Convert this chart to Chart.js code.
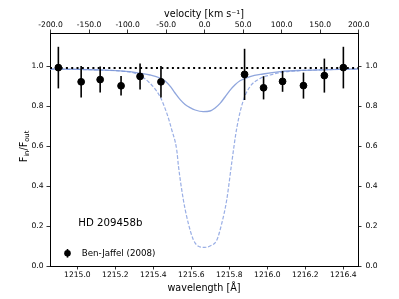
<!DOCTYPE html>
<html>
<head>
<meta charset="utf-8">
<script src="https://cdn.jsdelivr.net/npm/chart.js@4.4.0/dist/chart.umd.min.js"></script>
<style>
  body { margin: 0; background: #fff; }
  #wrap { width: 399px; height: 299px; }
</style>
</head>
<body>
<div id="wrap"><canvas id="lya" width="399" height="299"></canvas></div>
<script>
// Ben-Jaffel (2008) points
const obsWave = [1214.90, 1215.02, 1215.12, 1215.23, 1215.33, 1215.44, 1215.88, 1215.98, 1216.08, 1216.19, 1216.30, 1216.40];
const obsFlux = [0.992, 0.921, 0.932, 0.901, 0.948, 0.921, 0.958, 0.891, 0.923, 0.902, 0.952, 0.992];
const obsErr  = [0.104, 0.079, 0.065, 0.049, 0.065, 0.079, 0.128, 0.058, 0.052, 0.065, 0.085, 0.104];

// model, convolved (solid)
const convWave = [1214.856, 1215.014, 1215.119, 1215.225, 1215.277, 1215.33, 1215.383, 1215.435, 1215.462, 1215.488, 1215.514, 1215.541, 1215.567, 1215.593, 1215.62, 1215.662, 1215.698, 1215.725, 1215.751, 1215.777, 1215.804, 1215.83, 1215.856, 1215.909, 1215.977, 1216.067, 1216.172, 1216.33, 1216.477];
const convFlux = [0.985, 0.983, 0.980, 0.976, 0.972, 0.964, 0.955, 0.940, 0.925, 0.899, 0.865, 0.832, 0.808, 0.792, 0.780, 0.772, 0.775, 0.790, 0.813, 0.845, 0.879, 0.906, 0.926, 0.947, 0.960, 0.972, 0.978, 0.982, 0.985];

// model, unconvolved (dashed)
const rawWave = [1214.856, 1215.119, 1215.225, 1215.313, 1215.383, 1215.435, 1215.471, 1215.497, 1215.523, 1215.532, 1215.558, 1215.584, 1215.611, 1215.635, 1215.668, 1215.698, 1215.734, 1215.76, 1215.786, 1215.813, 1215.839, 1215.874, 1215.909, 1215.962, 1216.014, 1216.067, 1216.172, 1216.33, 1216.477];
const rawFlux = [0.985, 0.980, 0.975, 0.960, 0.913, 0.847, 0.763, 0.680, 0.580, 0.500, 0.330, 0.213, 0.130, 0.100, 0.093, 0.100, 0.130, 0.213, 0.330, 0.520, 0.690, 0.830, 0.897, 0.938, 0.955, 0.967, 0.977, 0.982, 0.985];

const contLevel = 0.99;

const waveTicks = [1215.0, 1215.2, 1215.4, 1215.6, 1215.8, 1216.0, 1216.2, 1216.4];
const velTicks = [-200, -150, -100, -50, 0, 50, 100, 150, 200];
const fluxTicks = [0.0, 0.2, 0.4, 0.6, 0.8, 1.0];

const waveMin = 1214.856, waveMax = 1216.477;
const lam0 = 1215.67, cLight = 299792.458;
const yMax = 1.165;

function pts(xs, ys) {
  return xs.map((x, i) => ({x: x, y: ys[i]}));
}

const ff = 'DejaVu Sans';

function axisStyle(extra) {
  return Object.assign({
    grid: {display: true, drawOnChartArea: false, drawTicks: true, tickLength: 3.5, tickWidth: 0.8, color: '#000'},
    border: {display: true, color: '#000', width: 1},
    ticks: {color: '#000', font: {family: ff, size: 7.6}}
  }, extra);
}

const errorBars = {
  id: 'errorBars',
  beforeDatasetDraw(chart, args) {
    if (args.index !== 0) return;
    const ctx = chart.ctx, xs = chart.scales.x, ys = chart.scales.y;
    ctx.save();
    ctx.strokeStyle = '#000';
    ctx.lineWidth = 1.6;
    obsWave.forEach((w, i) => {
      const px = xs.getPixelForValue(w);
      ctx.beginPath();
      ctx.moveTo(px, ys.getPixelForValue(obsFlux[i] - obsErr[i]));
      ctx.lineTo(px, ys.getPixelForValue(obsFlux[i] + obsErr[i]));
      ctx.stroke();
    });
    ctx.restore();
  }
};

const extras = {
  id: 'extras',
  afterDraw(chart) {
    const ctx = chart.ctx, a = chart.chartArea;
    ctx.save();
    ctx.fillStyle = '#000';
    ctx.textBaseline = 'middle';
    ctx.textAlign = 'left';
    ctx.font = '10.2px ' + ff;
    ctx.fillText('HD 209458b', a.left + 28.3, 223.3);

    // legend
    const lx = a.left + 17.5, ly = 253.3;
    ctx.strokeStyle = '#000';
    ctx.lineWidth = 1.6;
    ctx.beginPath(); ctx.moveTo(lx, ly - 4.3); ctx.lineTo(lx, ly + 4.3); ctx.stroke();
    ctx.beginPath(); ctx.arc(lx, ly, 3.3, 0, Math.PI * 2); ctx.fill();
    ctx.font = '8.7px ' + ff;
    ctx.fillText('Ben-Jaffel (2008)', a.left + 31.7, ly);

    // y label F_in/F_out
    ctx.translate(26.5, 146.5);
    ctx.rotate(-Math.PI / 2);
    const big = '9.6px ' + ff, small = '6.8px ' + ff;
    const parts = [['F', big, 0], ['in', small, 2.2], ['/F', big, 0], ['out', small, 2.2]];
    let w = 0;
    parts.forEach(p => { ctx.font = p[1]; w += ctx.measureText(p[0]).width; });
    let x = -w / 2;
    ctx.textBaseline = 'alphabetic';
    parts.forEach(p => {
      ctx.font = p[1];
      ctx.fillText(p[0], x, p[2]);
      x += ctx.measureText(p[0]).width;
    });
    ctx.restore();
  }
};

const ctx = document.getElementById('lya').getContext('2d');

const chart = new Chart(ctx, {
  type: 'scatter',
  data: {
    datasets: [{
      label: 'Ben-Jaffel (2008)',
      data: pts(obsWave, obsFlux),
      backgroundColor: '#000',
      borderColor: '#000',
      pointRadius: 3.4,
      pointHoverRadius: 3.4,
      showLine: false
    }, {
      label: 'continuum',
      data: pts([waveMin, waveMax], [contLevel, contLevel]),
      borderColor: '#000',
      borderWidth: 2,
      borderDash: [2, 3.3],
      pointRadius: 0,
      showLine: true
    }, {
      label: 'model',
      data: pts(convWave, convFlux),
      borderColor: 'rgba(125,150,215,0.85)',
      borderWidth: 1.3,
      pointRadius: 0,
      showLine: true,
      cubicInterpolationMode: 'monotone'
    }, {
      label: 'model (raw)',
      data: pts(rawWave, rawFlux),
      borderColor: 'rgba(135,160,225,0.85)',
      borderWidth: 1.2,
      borderDash: [3.7, 1.8],
      pointRadius: 0,
      showLine: true,
      cubicInterpolationMode: 'monotone'
    }]
  },
  options: {
    responsive: false,
    animation: false,
    layout: {padding: 0},
    plugins: {legend: {display: false}, tooltip: {enabled: false}},
    scales: {
      x: axisStyle({
        type: 'linear', position: 'bottom', min: waveMin, max: waveMax,
        afterBuildTicks: s => { s.ticks = waveTicks.map(v => ({value: v})); },
        afterFit: s => { s.height = 33; },
        ticks: {color: '#000', font: {family: ff, size: 7.6}, padding: 1, maxRotation: 0,
          callback: v => v.toFixed(1)},
        title: {display: true, text: 'wavelength [Å]', color: '#000', font: {family: ff, size: 9.6}, padding: {top: 0, bottom: 5}}
      }),
      x2: axisStyle({
        type: 'linear', position: 'top',
        min: (waveMin - lam0) / lam0 * cLight, max: (waveMax - lam0) / lam0 * cLight,
        afterBuildTicks: s => { s.ticks = velTicks.map(v => ({value: v})); },
        afterFit: s => { s.height = 33; },
        ticks: {color: '#000', font: {family: ff, size: 7.6}, padding: 0, maxRotation: 0,
          callback: v => v.toFixed(1)},
        title: {display: true, text: 'velocity [km s⁻¹]', color: '#000', font: {family: ff, size: 9.6}, padding: {top: 9, bottom: 0}}
      }),
      y: axisStyle({
        type: 'linear', position: 'left', min: 0, max: yMax,
        afterBuildTicks: s => { s.ticks = fluxTicks.map(v => ({value: v})); },
        afterFit: s => { s.width = 50; },
        ticks: {color: '#000', font: {family: ff, size: 7.6}, padding: 3,
          callback: v => v.toFixed(1)}
      }),
      y2: axisStyle({
        type: 'linear', position: 'right', min: 0, max: yMax,
        afterBuildTicks: s => { s.ticks = fluxTicks.map(v => ({value: v})); },
        afterFit: s => { s.width = 41; },
        ticks: {color: '#000', font: {family: ff, size: 7.6}, padding: 4,
          callback: v => v.toFixed(1)}
      })
    }
  },
  plugins: [errorBars, extras]
});
</script>
</body>
</html>
